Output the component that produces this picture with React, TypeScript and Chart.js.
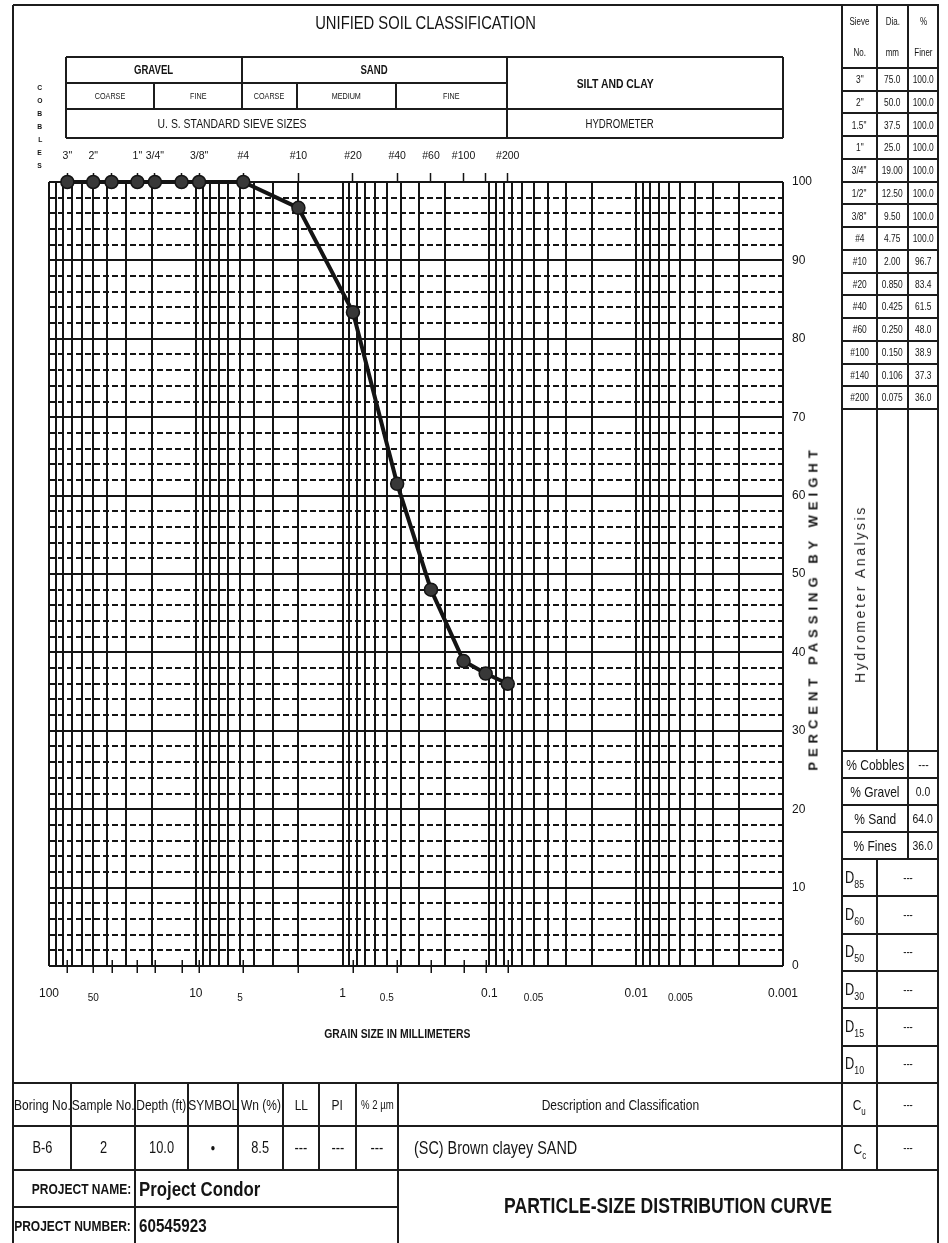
import React, { useEffect, useRef } from "react";
import { Chart, registerables } from "chart.js";

Chart.register(...registerables);

const SANS = '"Liberation Sans", Arial, Helvetica, sans-serif';
const INK = "#141414";

// ---------------- data ----------------
const sieveNames = ['3"', '2"', '1.5"', '1"', '3/4"', '1/2"', '3/8"', "#4", "#10", "#20", "#40", "#60", "#100", "#140", "#200"];
const sieveSizesMm = [75.0, 50.0, 37.5, 25.0, 19.0, 12.5, 9.5, 4.75, 2.0, 0.85, 0.425, 0.25, 0.15, 0.106, 0.075];
const sieveSizeText = ["75.0", "50.0", "37.5", "25.0", "19.00", "12.50", "9.50", "4.75", "2.00", "0.850", "0.425", "0.250", "0.150", "0.106", "0.075"];
const percentFiner = [100, 100, 100, 100, 100, 100, 100, 100, 96.7, 83.4, 61.5, 48.0, 38.9, 37.3, 36.0];
const topAxisNames = ['3"', '2"', "", '1"', '3/4"', "", '3/8"', "#4", "#10", "#20", "#40", "#60", "#100", "", "#200"];
const xLabelValues = [100, 50, 10, 5, 1, 0.5, 0.1, 0.05, 0.01, 0.005, 0.001];
const xLabelTexts = ["100", "50", "10", "5", "1", "0.5", "0.1", "0.05", "0.01", "0.005", "0.001"];
const xLabelMajor = [true, false, true, false, true, false, true, false, true, false, true];
const yLabelValues = [0, 10, 20, 30, 40, 50, 60, 70, 80, 90, 100];

const summaryLabels = ["% Cobbles", "% Gravel", "% Sand", "% Fines"];
const summaryValues = ["---", "0.0", "64.0", "36.0"];
const dLabels = ["85", "60", "50", "30", "15", "10"];
const dValues = ["---", "---", "---", "---", "---", "---"];
const coefLabels = ["u", "c"];
const coefValues = ["---", "---"];

const headerCols = ["Boring No.", "Sample No.", "Depth (ft)", "SYMBOL", "Wn (%)", "LL", "PI", "% 2 \u00b5m"];
const sampleRow = ["B-6", "2", "10.0", "\u25cf", "8.5", "---", "---", "---"];
const description = "(SC) Brown clayey SAND";
const projectName = "Project Condor";
const projectNumber = "60545923";

// ---------------- layout helpers ----------------
const LINE = "#1c1c1c";
const H = ({ x1, x2, y, t = 2 }: any) => (
  <div style={{ position: "absolute", left: x1, top: Math.round(y - t / 2), width: x2 - x1, height: t, background: LINE }} />
);
const V = ({ x, y1, y2, t = 2 }: any) => (
  <div style={{ position: "absolute", left: Math.round(x - t / 2), top: y1, width: t, height: y2 - y1, background: LINE }} />
);
const Txt = ({ x, y, w, h, s = 12, b = false, a = "center", sx = 0.8, st = {}, children }: any) => (
  <div
    style={{
      position: "absolute",
      left: x,
      top: y,
      width: w,
      height: h,
      display: "flex",
      alignItems: "center",
      justifyContent: a === "center" ? "center" : a === "left" ? "flex-start" : "flex-end",
      fontFamily: SANS,
      fontSize: s,
      fontWeight: b ? "bold" : "normal",
      color: INK,
      whiteSpace: "nowrap",
      lineHeight: 1,
      ...st,
    }}
  >
    <span
      style={{
        display: "inline-block",
        transform: `scaleX(${sx})`,
        transformOrigin: a === "left" ? "left center" : a === "right" ? "right center" : "center center",
      }}
    >
      {children}
    </span>
  </div>
);
const Rot = ({ cx, cy, s, b = false, ls = 0, color = INK, children }: any) => (
  <div
    style={{
      position: "absolute",
      left: cx,
      top: cy,
      transform: "translate(-50%, -50%) rotate(-90deg)",
      fontFamily: SANS,
      fontSize: s,
      fontWeight: b ? "bold" : "normal",
      letterSpacing: ls,
      color,
      whiteSpace: "nowrap",
      lineHeight: 1,
    }}
  >
    {children}
  </div>
);

// ---------------- chart ----------------
function GrainChart() {
  const ref = useRef<HTMLCanvasElement | null>(null);
  useEffect(() => {
    if (!ref.current) return;
    const gridVals: number[] = [];
    for (let e = -3; e <= 1; e++) for (let m = 1; m <= 9; m++) gridVals.push(Number((m * Math.pow(10, e)).toPrecision(4)));
    gridVals.push(100);
    const labelIndex = (v: number) => xLabelValues.findIndex((u) => Math.abs(u - v) / u < 1e-6);

    const sieveTicks = {
      id: "sieveTicks",
      afterDatasetsDraw(chart: any) {
        const sx = chart.scales.x;
        const bottom = chart.chartArea.bottom;
        const c = chart.ctx;
        c.save();
        c.strokeStyle = INK;
        c.lineWidth = 1.5;
        sieveSizesMm.forEach((d) => {
          const px = Math.round(sx.getPixelForValue(d)) + 0.25;
          c.beginPath();
          c.moveTo(px, bottom - 6);
          c.lineTo(px, bottom + 7);
          c.stroke();
        });
        c.restore();
      },
    };

    const chart = new Chart(ref.current, {
      type: "line",
      data: {
        datasets: [
          {
            data: sieveSizesMm.map((x, i) => ({ x, y: percentFiner[i] })),
            borderColor: INK,
            borderWidth: 4,
            pointRadius: 6.5,
            pointBackgroundColor: "#383838",
            pointBorderColor: INK,
            pointBorderWidth: 1.5,
            clip: false as any,
            tension: 0,
          },
        ],
      },
      options: {
        responsive: false,
        animation: false,
        devicePixelRatio: 1,
        layout: { padding: { left: 49, top: 140, right: 125, bottom: 217 } },
        plugins: { legend: { display: false }, tooltip: { enabled: false } },
        scales: {
          x: {
            type: "logarithmic",
            position: "bottom",
            reverse: true,
            min: 0.001,
            max: 100,
            afterBuildTicks: (scale: any) => {
              scale.ticks = gridVals.map((v) => ({ value: v }));
            },
            afterFit: (scale: any) => {
              scale.height = 60;
            },
            grid: { color: INK, lineWidth: 2, drawTicks: false },
            border: { display: false },
            ticks: {
              autoSkip: false,
              maxRotation: 0,
              minRotation: 0,
              padding: 20,
              color: INK,
              font: (ctx: any) => {
                const v = ctx.tick ? ctx.tick.value : 1;
                const i = labelIndex(v);
                const major = i < 0 || xLabelMajor[i];
                return major
                  ? { family: SANS, size: 12, lineHeight: 1.2 }
                  : { family: SANS, size: 10, lineHeight: 2.5 };
              },
              callback: (v: any) => {
                const i = labelIndex(Number(v));
                return i >= 0 ? xLabelTexts[i] : "";
              },
            },
          },
          x2: {
            type: "logarithmic",
            axis: "x",
            position: "top",
            reverse: true,
            min: 0.001,
            max: 100,
            afterBuildTicks: (scale: any) => {
              scale.ticks = sieveSizesMm.map((v) => ({ value: v }));
            },
            afterFit: (scale: any) => {
              scale.height = 42;
            },
            grid: { drawOnChartArea: false, drawTicks: true, tickLength: 9, tickColor: INK, tickWidth: 1.5, color: INK },
            border: { display: false },
            ticks: {
              autoSkip: false,
              maxRotation: 0,
              minRotation: 0,
              padding: 11,
              color: INK,
              font: { family: SANS, size: 10.5 },
              callback: (_v: any, i: number) => topAxisNames[i],
            },
          } as any,
          y: {
            type: "linear",
            position: "right",
            min: 0,
            max: 100,
            afterFit: (scale: any) => {
              scale.width = 40;
            },
            grid: { color: INK, lineWidth: 2, drawTicks: false },
            border: {
              display: false,
              dash: (ctx: any) =>
                ctx.tick && yLabelValues.includes(Math.round(ctx.tick.value)) ? [] : [6, 3],
            },
            ticks: {
              stepSize: 2,
              autoSkip: false,
              padding: 9,
              color: INK,
              font: { family: SANS, size: 12 },
              callback: (v: any) => (yLabelValues.includes(Number(v)) ? String(v) : ""),
            },
          } as any,
        },
      } as any,
      plugins: [sieveTicks],
    });
    return () => chart.destroy();
  }, []);
  return <canvas ref={ref} width={948} height={1243} style={{ position: "absolute", left: 0, top: 0 }} />;
}

// ---------------- page ----------------
export default function App() {
  const rowsTop = 68;
  const rowH = (409 - 68) / 15;
  const sumTop = 751;
  const sumH = 27;
  const dTop = 859;
  const dH = (1083 - 859) / 6;

  return (
    <div style={{ position: "absolute", left: 0, top: 0, width: 948, height: 1243, overflow: "hidden", background: "#fff" }}>
      <GrainChart />

      {/* frame */}
      <H x1={13} x2={939} y={5} />
      <V x={13} y1={5} y2={1243} />
      <V x={938} y1={5} y2={1243} />

      {/* title */}
      <Txt x={13} y={10} w={826} h={26} s={18} sx={0.82}>UNIFIED SOIL CLASSIFICATION</Txt>

      {/* classification box */}
      <H x1={66} x2={783} y={57} />
      <H x1={66} x2={507} y={83} />
      <H x1={66} x2={783} y={109} />
      <H x1={66} x2={783} y={138} />
      <V x={66} y1={57} y2={138} />
      <V x={783} y1={57} y2={138} />
      <V x={242} y1={57} y2={109} />
      <V x={507} y1={57} y2={138} />
      <V x={154} y1={83} y2={109} t={1.5} />
      <V x={297} y1={83} y2={109} t={1.5} />
      <V x={396} y1={83} y2={109} t={1.5} />
      <Txt x={66} y={57} w={176} h={26} s={12} b>GRAVEL</Txt>
      <Txt x={242} y={57} w={265} h={26} s={12} b>SAND</Txt>
      <Txt x={507} y={57} w={216} h={52} s={13} b>SILT AND CLAY</Txt>
      <Txt x={66} y={83} w={88} h={26} s={9}>COARSE</Txt>
      <Txt x={154} y={83} w={88} h={26} s={9}>FINE</Txt>
      <Txt x={242} y={83} w={55} h={26} s={9}>COARSE</Txt>
      <Txt x={297} y={83} w={99} h={26} s={9}>MEDIUM</Txt>
      <Txt x={396} y={83} w={111} h={26} s={9}>FINE</Txt>
      <Txt x={132} y={109} w={200} h={29} s={13}>U. S. STANDARD SIEVE SIZES</Txt>
      <Txt x={520} y={109} w={200} h={29} s={12}>HYDROMETER</Txt>

      {/* COBBLES vertical letters */}
      {"COBBLES".split("").map((ch, i) => (
        <Txt key={i} x={34} y={82 + i * 13} w={12} h={12} s={7.5} b sx={0.9}>
          {ch}
        </Txt>
      ))}

      {/* axis titles */}
      <Rot cx={813} cy={608} s={13} b ls={5}>PERCENT PASSING BY WEIGHT</Rot>
      <Txt x={247} y={1024} w={300} h={18} s={13} b>GRAIN SIZE IN MILLIMETERS</Txt>

      {/* right sieve table */}
      <V x={842} y1={5} y2={1170} />
      <V x={877} y1={5} y2={sumTop} />
      <V x={908} y1={5} y2={dTop} />
      <Txt x={842} y={10} w={35} h={24} s={10}>Sieve</Txt>
      <Txt x={842} y={41} w={35} h={24} s={10}>No.</Txt>
      <Txt x={877} y={10} w={31} h={24} s={10}>Dia.</Txt>
      <Txt x={877} y={41} w={31} h={24} s={10}>mm</Txt>
      <Txt x={908} y={10} w={30} h={24} s={10}>%</Txt>
      <Txt x={908} y={41} w={30} h={24} s={10}>Finer</Txt>
      <H x1={842} x2={938} y={rowsTop} />
      {sieveNames.map((n, i) => {
        const y = rowsTop + i * rowH;
        return (
          <React.Fragment key={n}>
            <H x1={842} x2={938} y={Math.round(y + rowH)} />
            <Txt x={842} y={y} w={35} h={rowH} s={10.5}>{n}</Txt>
            <Txt x={877} y={y} w={31} h={rowH} s={10.5}>{sieveSizeText[i]}</Txt>
            <Txt x={908} y={y} w={30} h={rowH} s={10.5}>{percentFiner[i].toFixed(1)}</Txt>
          </React.Fragment>
        );
      })}
      <Rot cx={860} cy={594} s={14} ls={2.6} color="#2a2a2a">Hydrometer Analysis</Rot>

      {/* summary rows */}
      <H x1={842} x2={938} y={sumTop} />
      {summaryLabels.map((l, i) => {
        const y = sumTop + i * sumH;
        return (
          <React.Fragment key={l}>
            <H x1={842} x2={938} y={y + sumH} />
            <Txt x={842} y={y} w={66} h={sumH} s={15}>{l}</Txt>
            <Txt x={908} y={y} w={30} h={sumH} s={13}>{summaryValues[i]}</Txt>
          </React.Fragment>
        );
      })}

      {/* D rows */}
      <V x={877} y1={dTop} y2={1170} />
      {dLabels.map((l, i) => {
        const y = dTop + i * dH;
        return (
          <React.Fragment key={l}>
            <H x1={842} x2={938} y={Math.round(y + dH)} />
            <Txt x={845} y={y} w={32} h={dH} s={16} a="left">
              <span>D</span>
              <span style={{ fontSize: 11, position: "relative", top: 5 }}>{l}</span>
            </Txt>
            <Txt x={877} y={y} w={61} h={dH} s={12}>{dValues[i]}</Txt>
          </React.Fragment>
        );
      })}

      {/* bottom table */}
      <H x1={13} x2={938} y={1083} />
      <H x1={13} x2={938} y={1126} />
      <H x1={13} x2={938} y={1170} />
      <H x1={13} x2={398} y={1207} />
      {[71, 188, 238, 283, 319, 356].map((x) => (
        <V key={x} x={x} y1={1083} y2={1170} />
      ))}
      <V x={135} y1={1083} y2={1243} />
      <V x={398} y1={1083} y2={1243} />
      {(() => {
        const xs = [13, 71, 135, 188, 238, 283, 319, 356, 398];
        return headerCols.map((hd, i) => (
          <React.Fragment key={hd}>
            <Txt x={xs[i]} y={1083} w={xs[i + 1] - xs[i]} h={43} s={i === 7 ? 12 : 15}>{hd}</Txt>
            <Txt x={xs[i]} y={1126} w={xs[i + 1] - xs[i]} h={44} s={i === 3 ? 10 : 16}>{sampleRow[i]}</Txt>
          </React.Fragment>
        ));
      })()}
      <Txt x={398} y={1083} w={444} h={43} s={15}>Description and Classification</Txt>
      <Txt x={414} y={1126} w={420} h={44} s={18} a="left">{description}</Txt>

      {/* Cu / Cc */}
      {coefLabels.map((c, i) => {
        const y = 1083 + i * 43.5;
        return (
          <React.Fragment key={c}>
            <Txt x={842} y={y} w={35} h={43} s={15}>
              <span>C</span>
              <span style={{ fontSize: 10, position: "relative", top: 5 }}>{c}</span>
            </Txt>
            <Txt x={877} y={y} w={61} h={43} s={12}>{coefValues[i]}</Txt>
          </React.Fragment>
        );
      })}

      {/* project */}
      <Txt x={13} y={1170} w={118} h={37} s={15} b a="right">PROJECT NAME:</Txt>
      <Txt x={139} y={1170} w={255} h={37} s={21} b a="left">{projectName}</Txt>
      <Txt x={13} y={1207} w={118} h={36} s={15} b a="right">PROJECT NUMBER:</Txt>
      <Txt x={139} y={1207} w={255} h={36} s={19} b a="left">{projectNumber}</Txt>
      <Txt x={398} y={1175} w={540} h={62} s={22} b>PARTICLE-SIZE DISTRIBUTION CURVE</Txt>
    </div>
  );
}
